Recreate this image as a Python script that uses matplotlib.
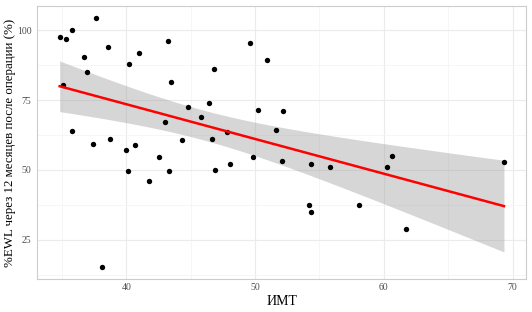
import numpy as np
import matplotlib
matplotlib.use("Agg")
import matplotlib.pyplot as plt
from matplotlib.ticker import MultipleLocator

imt = [34.83, 35.32, 35.81, 37.62, 36.72, 38.60, 36.93, 35.11, 35.81, 37.41,
       38.71, 40.00, 40.70, 40.21, 41.01, 43.21, 43.49, 43.00, 42.52, 44.30,
       44.81, 45.80, 46.42, 46.81, 46.68, 47.80, 49.60, 49.81, 50.20, 50.90,
       52.19, 51.60, 60.60, 40.11, 41.79, 43.32, 46.91, 48.03, 38.11, 52.11,
       54.32, 55.79, 60.22, 69.32, 54.21, 54.32, 58.09, 61.69]
ewl = [97.5, 96.9, 100.0, 104.2, 90.25, 93.9, 85.0, 80.4, 64.0, 59.4,
       61.2, 57.0, 58.8, 88.0, 91.7, 96.2, 81.3, 67.0, 54.75, 60.6,
       72.4, 69.0, 73.9, 86.1, 61.1, 63.5, 95.25, 54.75, 71.5, 89.2,
       71.1, 64.3, 55.0, 49.5, 46.2, 49.6, 50.0, 52.1, 15.25, 53.2,
       52.0, 51.1, 51.1, 53.0, 37.5, 35.1, 37.4, 29.0]

x = np.array(imt)
y = np.array(ewl)

plt.rcParams['font.family'] = ['Liberation Serif', 'DejaVu Serif']

fig = plt.figure(figsize=(5.32, 3.12), dpi=100)
ax = fig.add_axes([0.0695, 0.1058, 0.9192, 0.875])

# linear fit with 95% CI
n = len(x)
b1, b0 = np.polyfit(x, y, 1)
xs = np.linspace(x.min(), x.max(), 100)
ys = b0 + b1 * xs
resid = y - (b0 + b1 * x)
s = np.sqrt(np.sum(resid**2) / (n - 2))
sxx = np.sum((x - x.mean())**2)
tval = 2.0129  # t(0.975, 46)
se = s * np.sqrt(1.0 / n + (xs - x.mean())**2 / sxx)

ax.fill_between(xs, ys - tval * se, ys + tval * se, color='#999999', alpha=0.4,
                linewidth=0, zorder=2)
ax.scatter(x, y, s=15, color='black', zorder=3, linewidths=0)
ax.plot(xs, ys, color='#ff0000', linewidth=1.8, zorder=4)

ax.set_xlim(33.07, 71.03)
ax.set_ylim(11.0, 108.65)
ax.xaxis.set_major_locator(MultipleLocator(10))
ax.xaxis.set_minor_locator(MultipleLocator(5))
ax.yaxis.set_major_locator(MultipleLocator(25))
ax.yaxis.set_minor_locator(MultipleLocator(12.5))

ax.grid(which='major', color='#ebebeb', linewidth=0.8, zorder=0)
ax.grid(which='minor', color='#f3f3f3', linewidth=0.5, zorder=0)
ax.set_axisbelow(True)

for sp in ax.spines.values():
    sp.set_color('#cccccc')
    sp.set_linewidth(0.8)

ax.tick_params(which='both', length=0, labelsize=7, labelcolor='#4d4d4d', pad=3)
ax.tick_params(axis='y', pad=4)

ax.set_xlabel('ИМТ', fontsize=10, labelpad=2)
ax.set_ylabel('%EWL через 12 месяцев после операции (%)', fontsize=9.3, labelpad=0.5)

fig.savefig('out.png', dpi=100)
